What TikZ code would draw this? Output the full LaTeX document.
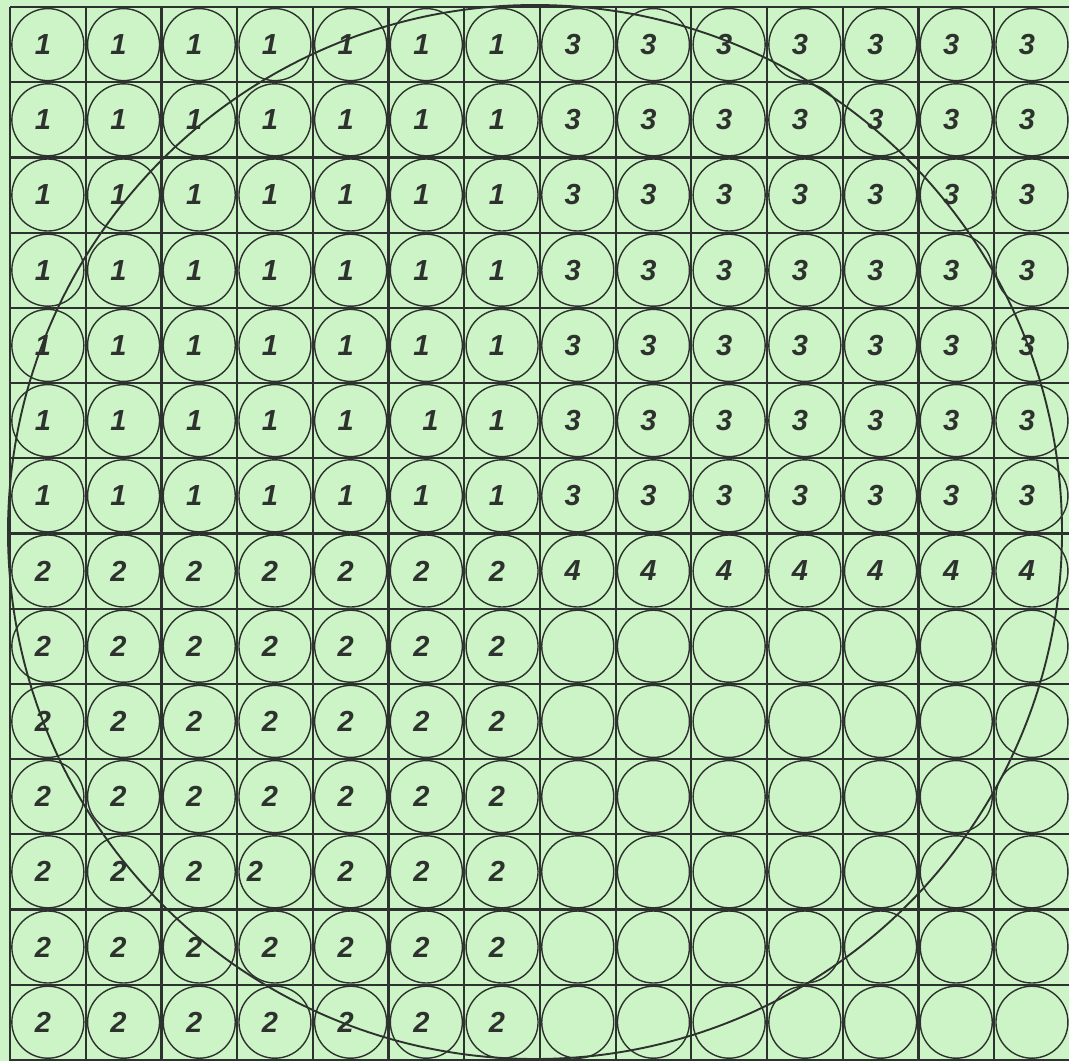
\documentclass[tikz,border=0pt]{standalone}
\usepackage{fontspec}
\newfontfamily\numfont{Liberation Sans}[BoldItalicFont=* Bold Italic]
\definecolor{bggreen}{HTML}{CDF4C6}
\definecolor{ink}{HTML}{2E322E}
\tikzset{
  cellcirc/.style={circle,draw=ink,line width=1.4pt,minimum size=72pt,inner sep=0pt},
  numtext/.style={font=\numfont\bfseries\itshape\fontsize{29}{29}\selectfont,text=ink,inner sep=0pt},
  gridline/.style={draw=ink,line width=2.2pt},
  bigcirc/.style={draw=ink,line width=1.9pt}
}
\begin{document}
\begin{tikzpicture}[x=1pt,y=-1pt]
\useasboundingbox (0,0) rectangle (1069,1061);
\clip (0,0) rectangle (1069,1061);
\fill[bggreen] (0,0) rectangle (1069,1061);
\foreach \k in {0,...,14}{
  \draw[gridline] ({10+\k*75.7},7) -- ({10+\k*75.7},1061);
  \draw[gridline] (10,{7+\k*75.2}) -- (1075,{7+\k*75.2});
}
\foreach \i in {0,...,13}{
  \foreach \j in {0,...,13}{
    \ifnum\i<7
      \ifnum\j<7 \def\lab{1}\else \def\lab{2}\fi
    \else
      \ifnum\j<7 \def\lab{3}\else\ifnum\j=7 \def\lab{4}\else\def\lab{}\fi\fi
    \fi
    \def\dx{-5}
    \ifnum\i=3 \ifnum\j=11 \def\dx{-20}\fi\fi
    \ifnum\i=5 \ifnum\j=5 \def\dx{4}\fi\fi
    \node[cellcirc] (c-\i-\j) at ({10+(\i+0.5)*75.7},{7+(\j+0.5)*75.2}) {};
    \node[numtext] (t-\i-\j) at ([xshift=\dx pt]c-\i-\j.center) {\lab};
  }
}
\node[bigcirc,circle,minimum size=1054pt,inner sep=0pt] (big) at (535,532) {};
\end{tikzpicture}
\end{document}
